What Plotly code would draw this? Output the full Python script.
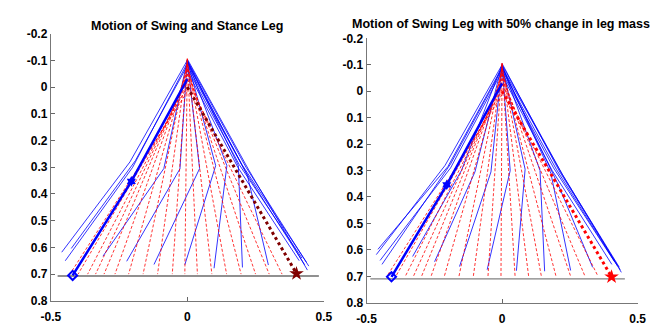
import plotly.graph_objects as go

# ---------------- data ----------------
# Left panel: stance leg (red dashed) -> hip (0, hip_y) to foot (foot_x, ground)
L_stance_foot_x = [-0.43, -0.40, -0.365, -0.336, -0.305, -0.265, -0.215, -0.162, -0.109,
                   -0.055, -0.009, 0.037, 0.09, 0.144, 0.197, 0.25, 0.30, 0.347]
L_stance_hip_y = [0.017, -0.001, -0.02, -0.034, -0.047, -0.062, -0.078, -0.09, -0.10,
                  -0.105, -0.107, -0.106, -0.102, -0.094, -0.083, -0.067, -0.049, -0.029]
L_stance_foot_y = 0.70

# Left panel: swing leg (blue) hip -> knee -> foot
L_swing_hip_y = [-0.10, -0.09, -0.08, -0.10, -0.10, -0.10, -0.10, -0.10, -0.10, -0.095,
                 -0.10, -0.105, -0.09, -0.08, -0.07, -0.06]
L_swing_knee_x = [-0.21, -0.20, -0.19, -0.086, -0.027, 0.045, 0.104, 0.145, 0.187, 0.22,
                  0.215, 0.225, 0.20, 0.215, 0.19, 0.185]
L_swing_knee_y = [0.28, 0.30, 0.275, 0.305, 0.306, 0.305, 0.294, 0.294, 0.294, 0.33,
                  0.30, 0.31, 0.29, 0.32, 0.29, 0.30]
L_swing_foot_x = [-0.46, -0.447, -0.425, -0.309, -0.222, -0.122, -0.009, 0.098, 0.202, 0.297,
                  0.445, 0.44, 0.436, 0.43, 0.42, 0.41]
L_swing_foot_y = [0.618, 0.65, 0.604, 0.633, 0.652, 0.664, 0.665, 0.678, 0.675, 0.666,
                  0.67, 0.685, 0.655, 0.665, 0.64, 0.65]

# Left panel: highlighted initial swing leg and final stance leg
L_init_x = [-0.42, -0.205, 0.0]
L_init_y = [0.705, 0.353, -0.03]
L_final_x = [0.0, 0.40]
L_final_y = [0.0, 0.698]
L_ground_x = [-0.475, 0.482]
L_ground_y = 0.707

# Right panel
R_stance_foot_x = [-0.425, -0.392, -0.357, -0.327, -0.297, -0.262, -0.213, -0.159, -0.106,
                   -0.052, -0.004, 0.048, 0.098, 0.145, 0.199, 0.253, 0.306, 0.354]
R_stance_hip_y = [0.013, -0.005, -0.022, -0.035, -0.048, -0.062, -0.078, -0.09, -0.10,
                  -0.105, -0.107, -0.106, -0.101, -0.094, -0.082, -0.066, -0.047, -0.027]
R_stance_foot_y = 0.70

R_swing_hip_y = [-0.10, -0.09, -0.085, -0.075, -0.10, -0.10, -0.10, -0.10, -0.10, -0.10,
                 -0.095, -0.09, -0.10, -0.105, -0.09, -0.08, -0.07, -0.06]
R_swing_knee_x = [-0.21, -0.20, -0.19, -0.19, -0.15, -0.10, -0.041, 0.03, 0.085, 0.14,
                  0.18, 0.21, 0.22, 0.21, 0.225, 0.20, 0.19, 0.185]
R_swing_knee_y = [0.28, 0.285, 0.275, 0.29, 0.30, 0.305, 0.305, 0.30, 0.295, 0.30,
                  0.31, 0.36, 0.31, 0.30, 0.32, 0.295, 0.29, 0.30]
R_swing_foot_x = [-0.464, -0.458, -0.443, -0.45, -0.33, -0.249, -0.157, -0.055, 0.053, 0.157,
                  0.253, 0.334, 0.44, 0.436, 0.432, 0.425, 0.415, 0.405]
R_swing_foot_y = [0.618, 0.598, 0.655, 0.64, 0.625, 0.645, 0.663, 0.675, 0.679, 0.681,
                  0.678, 0.666, 0.685, 0.675, 0.665, 0.66, 0.645, 0.655]

R_init_x = [-0.408, -0.204, 0.0]
R_init_y = [0.702, 0.354, -0.03]
R_final_x = [0.0, 0.404]
R_final_y = [0.0, 0.702]
R_ground_x = [-0.486, 0.453]
R_ground_y = 0.71

y_ticks = [-0.2, -0.1, 0, 0.1, 0.2, 0.3, 0.4, 0.5, 0.6, 0.7, 0.8]
y_tick_text = ["-0.2", "-0.1", "0", "0.1", "0.2", "0.3", "0.4", "0.5", "0.6", "0.7", "0.8"]
x_ticks = [-0.5, 0, 0.5]
x_tick_text = ["-0.5", "0", "0.5"]

titles = ["Motion of Swing and Stance Leg", "Motion of Swing Leg with 50% change in leg mass"]


def polylines(xs_list, ys_list):
    X, Y = [], []
    for xs, ys in zip(xs_list, ys_list):
        X += list(xs) + [None]
        Y += list(ys) + [None]
    return X, Y


fig = go.Figure()


def add_panel(xa, ya, st_fx, st_hy, st_fy, sw_hy, sw_kx, sw_ky, sw_fx, sw_fy,
              init_x, init_y, fin_x, fin_y, gx, gy, fin_color, ground_color):
    # swing legs (blue)
    X, Y = polylines([[0.0, kx, fx] for kx, fx in zip(sw_kx, sw_fx)],
                     [[hy, ky, fy] for hy, ky, fy in zip(sw_hy, sw_ky, sw_fy)])
    fig.add_trace(go.Scatter(x=X, y=Y, mode="lines", xaxis=xa, yaxis=ya,
                             line=dict(color="rgba(0,0,255,0.8)", width=1),
                             showlegend=False, hoverinfo="skip"))
    # stance legs (red dashed)
    X, Y = polylines([[0.0, fx] for fx in st_fx], [[hy, st_fy] for hy in st_hy])
    fig.add_trace(go.Scatter(x=X, y=Y, mode="lines", xaxis=xa, yaxis=ya,
                             line=dict(color="rgba(255,0,0,0.8)", width=1, dash="3px,2px"),
                             showlegend=False, hoverinfo="skip"))
    # ground
    fig.add_trace(go.Scatter(x=gx, y=[gy, gy], mode="lines", xaxis=xa, yaxis=ya,
                             line=dict(color=ground_color, width=1.2),
                             showlegend=False, hoverinfo="skip"))
    # initial leg (thick blue)
    fig.add_trace(go.Scatter(x=init_x, y=init_y, mode="lines", xaxis=xa, yaxis=ya,
                             line=dict(color="#0000ff", width=2.5),
                             showlegend=False, hoverinfo="skip"))
    fig.add_trace(go.Scatter(x=init_x[:1], y=init_y[:1], mode="markers", xaxis=xa, yaxis=ya,
                             marker=dict(symbol="diamond-open", size=7, color="#0000ff",
                                         line=dict(width=2, color="#0000ff")),
                             showlegend=False, hoverinfo="skip"))
    fig.add_trace(go.Scatter(x=init_x[1:2], y=init_y[1:2], mode="markers", xaxis=xa, yaxis=ya,
                             marker=dict(symbol="hexagram", size=8, color="#0000ff"),
                             showlegend=False, hoverinfo="skip"))
    # final leg (thick dotted)
    fig.add_trace(go.Scatter(x=fin_x, y=fin_y, mode="lines", xaxis=xa, yaxis=ya,
                             line=dict(color=fin_color, width=3, dash="dot"),
                             showlegend=False, hoverinfo="skip"))
    fig.add_trace(go.Scatter(x=fin_x[1:], y=fin_y[1:], mode="markers", xaxis=xa, yaxis=ya,
                             marker=dict(symbol="star", size=11, color=fin_color),
                             showlegend=False, hoverinfo="skip"))


add_panel("x", "y", L_stance_foot_x, L_stance_hip_y, L_stance_foot_y,
          L_swing_hip_y, L_swing_knee_x, L_swing_knee_y, L_swing_foot_x, L_swing_foot_y,
          L_init_x, L_init_y, L_final_x, L_final_y, L_ground_x, L_ground_y, "#800000", "#222222")
add_panel("x2", "y2", R_stance_foot_x, R_stance_hip_y, R_stance_foot_y,
          R_swing_hip_y, R_swing_knee_x, R_swing_knee_y, R_swing_foot_x, R_swing_foot_y,
          R_init_x, R_init_y, R_final_x, R_final_y, R_ground_x, R_ground_y, "#ff0000", "#808080")

W, H = 667, 326
font = dict(family="Liberation Sans, Arial, sans-serif", size=12, color="black", weight="bold")


def xaxis(x0, x1, anchor):
    return dict(domain=[x0 / W, x1 / W], range=[-0.5, 0.5], anchor=anchor,
                tickvals=x_ticks, ticktext=x_tick_text, ticks="inside", ticklen=4,
                tickcolor="#666666", showline=True, linecolor="#777777", linewidth=1,
                showgrid=False, zeroline=False, tickfont=font, fixedrange=True,
                ticklabelstandoff=5)


def yaxis(y_top, y_bot, anchor):
    return dict(domain=[1 - y_bot / H, 1 - y_top / H], range=[0.8, -0.2], anchor=anchor,
                tickvals=y_ticks, ticktext=y_tick_text, ticks="inside", ticklen=4,
                tickcolor="#666666", showline=True, linecolor="#777777", linewidth=1,
                showgrid=False, zeroline=False, tickfont=font, fixedrange=True)


title_font = dict(family="Liberation Sans, Arial, sans-serif", size=12.5, color="black", weight="bold")

fig.update_layout(
    width=W, height=H, margin=dict(l=0, r=0, t=0, b=0),
    paper_bgcolor="white", plot_bgcolor="white",
    xaxis=xaxis(42, 323, "y"), yaxis=yaxis(28, 309, "x"),
    xaxis2=xaxis(367, 646, "y2"), yaxis2=yaxis(33, 311, "x2"),
    annotations=[
        dict(text=titles[0], x=182 / W, y=1 - 20 / H, xref="paper", yref="paper",
             showarrow=False, font=title_font, xanchor="center", yanchor="middle"),
        dict(text=titles[1], x=505 / W, y=1 - 18 / H, xref="paper", yref="paper",
             showarrow=False, font=title_font, xanchor="center", yanchor="middle"),
    ],
)

fig.write_html("out.html", config={"displayModeBar": False})
